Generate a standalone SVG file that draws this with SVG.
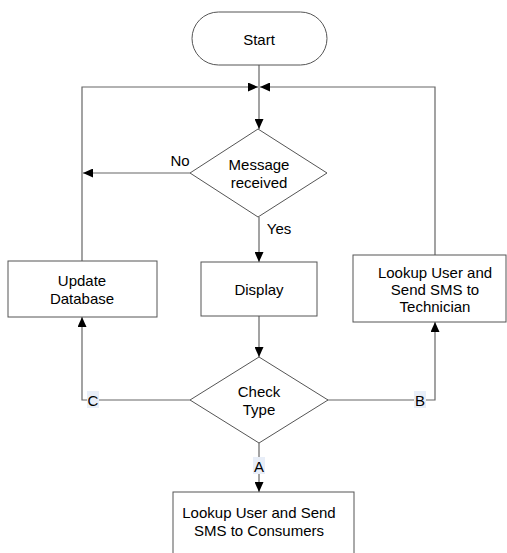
<svg xmlns="http://www.w3.org/2000/svg" width="507" height="553" viewBox="0 0 507 553">
<defs>
<marker id="arr" markerUnits="userSpaceOnUse" markerWidth="10" markerHeight="9" refX="10" refY="4.5" orient="auto">
<path d="M0,0 L10,4.5 L0,9 z" fill="#000"/>
</marker>
<style>
.shape{fill:#fff;stroke:#555;stroke-width:1}
.conn{fill:none;stroke:#666;stroke-width:1.2}
text{font-family:"Liberation Sans",Arial,sans-serif;font-size:15px;fill:#000;text-anchor:middle;dominant-baseline:central}
.lbg{fill:#e8eef8}
</style>
</defs>
<rect width="507" height="553" fill="#fff"/>
<g id="connectors">
<path class="conn" d="M259,65 V129" marker-end="url(#arr)"/>
<path class="conn" d="M82,261 V87 H258" marker-end="url(#arr)"/>
<path class="conn" d="M435,255 V87 H260" marker-end="url(#arr)"/>
<path class="conn" d="M190,173 H83" marker-end="url(#arr)"/>
<path class="conn" d="M259,217 V262" marker-end="url(#arr)"/>
<path class="conn" d="M259,316 V357" marker-end="url(#arr)"/>
<path class="conn" d="M190,400 H82 V317" marker-end="url(#arr)"/>
<path class="conn" d="M327,400 H435 V322" marker-end="url(#arr)"/>
<path class="conn" d="M259,443 V492" marker-end="url(#arr)"/>
<rect class="lbg" x="87" y="391" width="12" height="17"/>
<text x="93" y="400">C</text>
<rect class="lbg" x="414" y="391" width="12" height="17"/>
<text x="420" y="400">B</text>
<rect class="lbg" x="253" y="457" width="12" height="17"/>
<text x="259" y="466">A</text>
<text x="180" y="160">No</text>
<text x="279" y="228">Yes</text>
</g>
<g id="start">
<rect class="shape" x="192" y="12" width="135" height="53" rx="26.5"/>
<text x="259" y="39">Start</text>
</g>
<g id="message-received">
<path class="shape" d="M258,129 L327,173 L258,217 L190,173 Z"/>
<text x="259" y="164">Message</text>
<text x="259" y="182">received</text>
</g>
<g id="update-database">
<rect class="shape" x="8" y="261" width="149" height="56"/>
<text x="82" y="280">Update</text>
<text x="82" y="298">Database</text>
</g>
<g id="display">
<rect class="shape" x="201" y="262" width="116" height="54"/>
<text x="259" y="289">Display</text>
</g>
<g id="lookup-technician">
<rect class="shape" x="353" y="255" width="153" height="67"/>
<text x="435" y="272">Lookup User and</text>
<text x="435" y="289">Send SMS to</text>
<text x="435" y="306">Technician</text>
</g>
<g id="check-type">
<path class="shape" d="M259,357 L328,400 L259,443 L190,400 Z"/>
<text x="259" y="391">Check</text>
<text x="259" y="409">Type</text>
</g>
<g id="lookup-consumers">
<rect class="shape" x="173" y="492" width="181" height="70"/>
<text x="259" y="512">Lookup User and Send</text>
<text x="259" y="530">SMS to Consumers</text>
</g>
</svg>
